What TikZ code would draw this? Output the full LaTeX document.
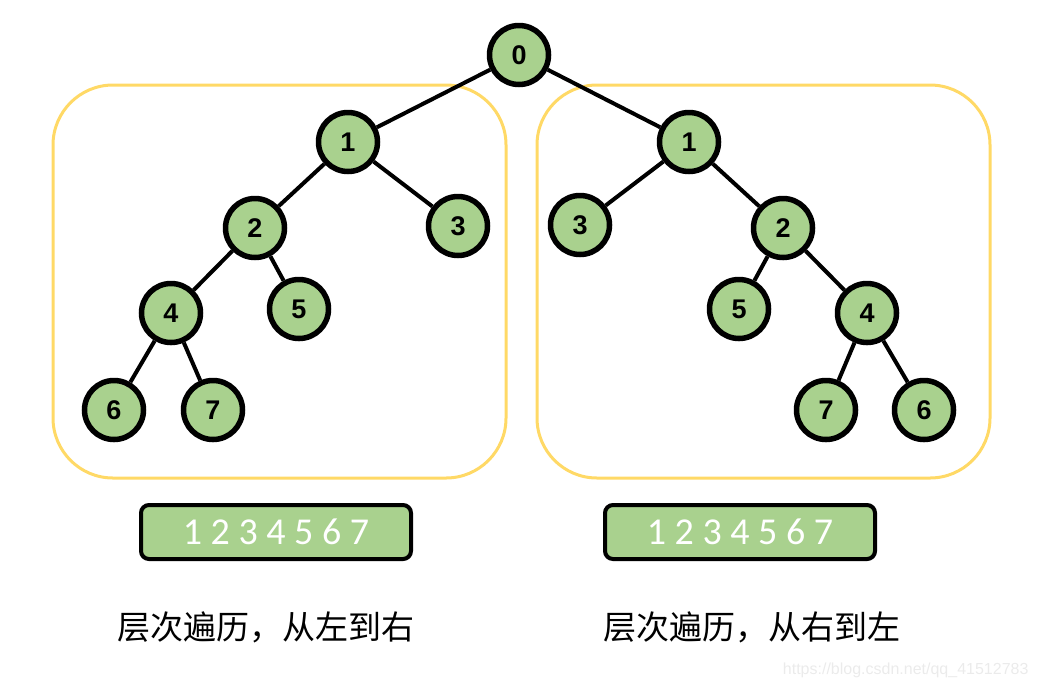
\documentclass[tikz,border=0pt]{standalone}
\usepackage{fontspec}
\setmainfont{Liberation Sans}
\newfontfamily\cjk{Noto Sans CJK SC}
\newfontfamily\calib{Carlito}
\usepackage{xcolor}
\usetikzlibrary{positioning}
\definecolor{cG}{HTML}{A9D18E}
\definecolor{cY}{HTML}{FFD966}
\definecolor{cW}{HTML}{EBEBEB}
\tikzset{ball/.style={circle,draw,line width=5.5pt,fill=cG,minimum size=59pt,inner sep=0pt,font=\fontsize{27}{27}\selectfont\bfseries},
  edge/.style={line width=4pt},
  frame/.style={draw=cY,line width=3pt,rounded corners=60pt},
  seq/.style={draw,line width=4pt,fill=cG,rounded corners=8pt,minimum width=270pt,minimum height=54pt,text=white,font=\calib\fontsize{38}{38}\selectfont}}

\begin{document}
\begin{tikzpicture}[x=1pt,y=-1pt]
  \useasboundingbox (0,0) rectangle (1040,689);
  % the two boxes
  \draw[frame] (53,85) rectangle (506,478);
  \draw[frame] (537,85) rectangle (990,478);
  % root
  \node[ball] (n0) at (519,55) {0};
  % left tree
  \node[ball] (l1) at (348,142) {1};
  \node[ball] (l2) at (255,228) {2};
  \node[ball] (l3) at (458,226) {3};
  \node[ball] (l4) at (171,313) {4};
  \node[ball] (l5) at (299,309) {5};
  \node[ball] (l6) at (114,410) {6};
  \node[ball] (l7) at (213,410) {7};
  % right tree
  \node[ball] (r1) at (689,142) {1};
  \node[ball] (r3) at (580,225) {3};
  \node[ball] (r2) at (783,228) {2};
  \node[ball] (r5) at (739,309) {5};
  \node[ball] (r4) at (867,313) {4};
  \node[ball] (r7) at (826,410) {7};
  \node[ball] (r6) at (924,410) {6};
  \foreach \a/\b in {n0/l1,n0/r1,l1/l2,l1/l3,l2/l4,l2/l5,l4/l6,l4/l7,r1/r3,r1/r2,r2/r5,r2/r4,r4/r7,r4/r6}
    \draw[edge] (\a) -- (\b);
  % order strips
  \node[seq] (sl) at (276,532) {1 2 3 4 5 6 7};
  \node[seq] (sr) at (740,532) {1 2 3 4 5 6 7};
  \node[font=\cjk\fontsize{33}{33}\selectfont] (tl) at (266,627) {层次遍历，从左到右};
  \node[font=\cjk\fontsize{33}{33}\selectfont] (tr) at (752,627) {层次遍历，从右到左};
  \node[cW,font=\fontsize{16}{16}\selectfont,anchor=east] (url) at (1032,670) {https://blog.csdn.net/qq\_41512783};
\end{tikzpicture}
\end{document}
